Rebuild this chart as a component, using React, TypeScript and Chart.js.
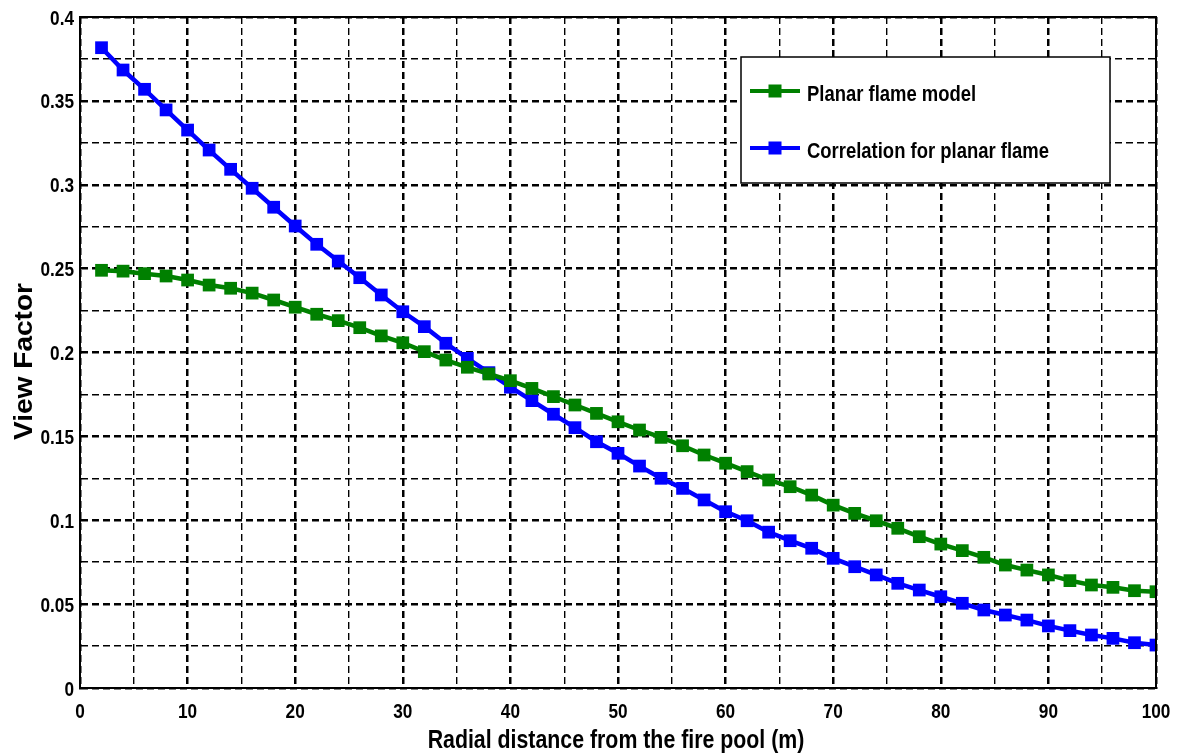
import React, { useEffect, useRef } from "react";
import { Chart, registerables } from "chart.js";

Chart.register(...registerables);

// ---- Data ----
const distances = [
  2, 4, 6, 8, 10, 12, 14, 16, 18, 20, 22, 24, 26, 28, 30, 32, 34, 36, 38, 40,
  42, 44, 46, 48, 50, 52, 54, 56, 58, 60, 62, 64, 66, 68, 70, 72, 74, 76, 78, 80,
  82, 84, 86, 88, 90, 92, 94, 96, 98, 100,
];

const planarFlameModel = [
  0.249, 0.2485, 0.247, 0.2456, 0.2432, 0.2402, 0.2383, 0.2354, 0.2313, 0.227,
  0.2228, 0.219, 0.2148, 0.2099, 0.2058, 0.2005, 0.1955, 0.1912, 0.1872, 0.1832,
  0.1786, 0.1737, 0.1687, 0.1637, 0.1587, 0.1538, 0.1494, 0.1444, 0.1389, 0.134,
  0.129, 0.124, 0.12, 0.115, 0.109, 0.1041, 0.0997, 0.0952, 0.0902, 0.0858,
  0.0819, 0.0779, 0.0733, 0.0703, 0.0674, 0.064, 0.0614, 0.06, 0.058, 0.0574,
];

const correlationPlanarFlame = [
  0.3817, 0.3684, 0.3569, 0.3446, 0.3326, 0.3207, 0.3092, 0.2979, 0.2866, 0.2754,
  0.2645, 0.2545, 0.2446, 0.2343, 0.2243, 0.2154, 0.2055, 0.1965, 0.188, 0.1793,
  0.1713, 0.1632, 0.1552, 0.1468, 0.1399, 0.1323, 0.125, 0.119, 0.1121, 0.1051,
  0.0997, 0.0929, 0.0878, 0.0833, 0.0773, 0.0723, 0.0674, 0.0624, 0.0584, 0.0544,
  0.0505, 0.0465, 0.0435, 0.0405, 0.037, 0.0342, 0.0316, 0.0296, 0.027, 0.0256,
];

const seriesLabels = ["Planar flame model", "Correlation for planar flame"];
const seriesColors = ["rgb(0,128,0)", "rgb(0,0,255)"];
const xTickLabels = ["0", "10", "20", "30", "40", "50", "60", "70", "80", "90", "100"];
const yTickLabels = ["0", "0.05", "0.1", "0.15", "0.2", "0.25", "0.3", "0.35", "0.4"];
const xTitle = "Radial distance from the fire pool (m)";
const yTitle = "View Factor";

const FONT = "'Liberation Sans', Arial, sans-serif";
const NARROW_K = 0.82; // emulate a narrow (condensed) face

function narrowText(
  ctx: CanvasRenderingContext2D,
  text: string,
  x: number,
  y: number,
  size: number,
  align: CanvasTextAlign,
  k = NARROW_K
) {
  ctx.save();
  ctx.translate(x, y);
  ctx.scale(k, 1);
  ctx.font = `bold ${size}px ${FONT}`;
  ctx.textAlign = align;
  ctx.textBaseline = "alphabetic";
  ctx.fillStyle = "#000";
  ctx.fillText(text, 0, 0);
  ctx.restore();
}

const framePlugin = {
  id: "frameLabelsLegend",
  afterDraw(chart: any) {
    const { ctx, chartArea, scales } = chart;
    const { left, top, right, bottom } = chartArea;
    ctx.save();
    ctx.setLineDash([]);
    ctx.strokeStyle = "#000";
    ctx.lineWidth = 2;
    ctx.strokeRect(left, top, right - left, bottom - top);

    // tick labels
    xTickLabels.forEach((t) => {
      const px = scales.x.getPixelForValue(Number(t));
      narrowText(ctx, t, px, bottom + 30, 21, "center");
    });
    yTickLabels.forEach((t) => {
      const py = scales.y.getPixelForValue(Number(t));
      narrowText(ctx, t, left - 6, py + 7.5, 21, "right");
    });

    // axis titles
    narrowText(ctx, xTitle, (left + right) / 2 - 2, 748, 26, "center");
    ctx.save();
    ctx.translate(32, 361.5);
    ctx.rotate(-Math.PI / 2);
    narrowText(ctx, yTitle, 0, 0, 26, "center", 1.08);
    ctx.restore();

    // legend box
    const bx = 741, by = 57, bw = 369, bh = 126;
    ctx.fillStyle = "#fff";
    ctx.fillRect(bx, by, bw, bh);
    ctx.lineWidth = 1.5;
    ctx.strokeStyle = "#000";
    ctx.strokeRect(bx, by, bw, bh);

    const rows = [91, 148];
    chart.data.datasets.forEach((ds: any, i: number) => {
      const y = rows[i];
      ctx.strokeStyle = ds.borderColor;
      ctx.lineWidth = 4;
      ctx.beginPath();
      ctx.moveTo(750, y);
      ctx.lineTo(800, y);
      ctx.stroke();
      ctx.fillStyle = ds.borderColor;
      ctx.fillRect(775 - 6.5, y - 6.5, 13, 13);
      narrowText(ctx, ds.label, 807, y + 10, 22.5, "left");
    });
    ctx.restore();
  },
};

export default function App() {
  const canvasRef = useRef<HTMLCanvasElement | null>(null);

  useEffect(() => {
    const canvas = canvasRef.current;
    if (!canvas) return;
    const makeData = (ys: number[]) => distances.map((x, i) => ({ x, y: ys[i] }));
    const mkSet = (label: string, ys: number[], color: string) => ({
      label,
      data: makeData(ys),
      borderColor: color,
      backgroundColor: color,
      borderWidth: 4.5,
      pointStyle: "rect",
      pointRadius: 9,
      pointBorderWidth: 0,
      pointBackgroundColor: color,
      tension: 0,
    });

    const chart = new Chart(canvas, {
      type: "line",
      data: {
        datasets: [
          mkSet(seriesLabels[0], planarFlameModel, seriesColors[0]),
          mkSet(seriesLabels[1], correlationPlanarFlame, seriesColors[1]),
        ] as any,
      },
      options: {
        animation: false,
        responsive: false,
        devicePixelRatio: 1,
        layout: { padding: { top: 17, right: 29, left: 0, bottom: 0 } },
        plugins: {
          legend: { display: false },
          tooltip: { enabled: false },
        },
        scales: {
          x: {
            type: "linear",
            min: 0,
            max: 100,
            afterFit: (s: any) => {
              s.height = 68;
            },
            ticks: { stepSize: 5, autoSkip: false, display: false },
            grid: {
              color: "#000",
              drawTicks: false,
              lineWidth: (c: any) =>
                c.tick && Math.round(c.tick.value) % 10 === 0 ? 2.5 : 1.4,
            },
            border: { display: true, color: "#000", width: 2, dash: [7, 4] },
          },
          y: {
            type: "linear",
            min: 0,
            max: 0.4,
            afterFit: (s: any) => {
              s.width = 80;
            },
            ticks: { stepSize: 0.025, autoSkip: false, display: false },
            grid: {
              color: "#000",
              drawTicks: false,
              lineWidth: (c: any) =>
                c.tick && Math.round(c.tick.value * 1000) % 50 === 0 ? 2.5 : 1.4,
            },
            border: { display: true, color: "#000", width: 2, dash: [7, 4] },
          },
        },
      } as any,
      plugins: [framePlugin],
    });

    return () => chart.destroy();
  }, []);

  return (
    <div
      style={{
        position: "absolute",
        left: 0,
        top: 0,
        width: 1185,
        height: 756,
        background: "#fff",
      }}
    >
      <canvas
        ref={canvasRef}
        width={1185}
        height={756}
        style={{ display: "block", width: 1185, height: 756 }}
      />
    </div>
  );
}
